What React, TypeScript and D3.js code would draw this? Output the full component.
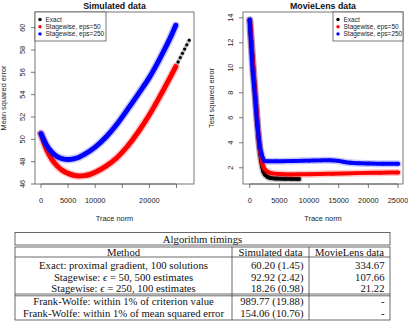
import React from "react";
import * as d3 from "d3";

// Simulated data: trace norm vs mean squared error
const simExactTrace = [0, 1000, 2000, 3000, 4000, 5000, 6000, 7000, 8000, 9000, 10000, 12000, 14000, 16000, 18000, 20000, 22000, 24000, 24850, 25300, 25700, 26100, 26500, 26900, 27350];
const simExactErr = [50.5, 49.1, 48.2, 47.6, 47.2, 46.95, 46.78, 46.72, 46.75, 46.85, 47.05, 47.6, 48.35, 49.4, 50.7, 52.2, 53.9, 55.7, 56.5, 56.93, 57.32, 57.7, 58.08, 58.46, 58.88];
const simEps50Trace = [0, 1000, 2000, 3000, 4000, 5000, 6000, 7000, 8000, 9000, 10000, 12000, 14000, 16000, 18000, 20000, 22000, 24000, 24850];
const simEps50Err = [50.5, 49.1, 48.2, 47.6, 47.2, 46.95, 46.78, 46.72, 46.75, 46.85, 47.05, 47.6, 48.35, 49.4, 50.7, 52.2, 53.9, 55.7, 56.5];
const simEps250Trace = [0, 1000, 2000, 3000, 4000, 5000, 6000, 7000, 8000, 10000, 12000, 14000, 16000, 18000, 20000, 22000, 24000, 24850];
const simEps250Err = [50.5, 49.5, 48.85, 48.45, 48.25, 48.2, 48.25, 48.4, 48.65, 49.3, 50.2, 51.35, 52.7, 54.1, 55.55, 57.3, 59.25, 60.2];

// MovieLens data: trace norm vs test squared error
const mlExactTrace = [0, 150, 300, 450, 600, 750, 900, 1050, 1200, 1350, 1500, 1650, 1800, 1950, 2100, 2300, 2600, 3000, 3600, 4500, 6000, 7000, 8300];
const mlExactErr = [13.8, 12.7, 12.0, 11.0, 10.0, 9.0, 8.0, 7.2, 6.2, 5.3, 4.3, 3.6, 3.0, 2.5, 2.1, 1.7, 1.45, 1.28, 1.18, 1.14, 1.12, 1.11, 1.1];
const mlEps50Trace = [0, 150, 300, 450, 600, 750, 900, 1050, 1200, 1350, 1500, 1650, 1800, 1950, 2100, 2300, 2600, 3000, 3800, 5000, 7000, 10000, 14000, 18000, 22000, 25000];
const mlEps50Err = [13.8, 13.3, 12.1, 11.0, 10.1, 9.1, 8.1, 7.2, 6.3, 5.4, 4.5, 3.8, 3.2, 2.8, 2.4, 2.1, 1.85, 1.68, 1.55, 1.5, 1.47, 1.48, 1.52, 1.57, 1.6, 1.62];
const mlEps250Trace = [0, 250, 500, 750, 1000, 1250, 1500, 1750, 2000, 2250, 2500, 3000, 4500, 6000, 8000, 10000, 12000, 13500, 15000, 16000, 17000, 18500, 20000, 22500, 25000];
const mlEps250Err = [13.85, 11.7, 9.7, 8.5, 7.0, 5.5, 4.5, 3.6, 3.1, 2.75, 2.55, 2.52, 2.52, 2.53, 2.55, 2.57, 2.59, 2.6, 2.55, 2.46, 2.4, 2.36, 2.34, 2.32, 2.32];

const simXTicks = [0, 5000, 10000, 15000, 20000, 25000];
const simXLabels = ["0", "5000", "10000", "", "20000", ""];
const simYTicks = [46, 48, 50, 52, 54, 56, 58, 60];
const mlXTicks = [0, 5000, 10000, 15000, 20000, 25000];
const mlXLabels = ["0", "5000", "10000", "15000", "20000", "25000"];
const mlYTicks = [2, 4, 6, 8, 10, 12, 14];

const legendNames = ["Exact", "Stagewise, eps=50", "Stagewise, eps=250"];
const legendColors = ["#000000", "#ff0000", "#0000ff"];

// timing table
const tableTitle = "Algorithm timings";
const tableHeader = ["Method", "Simulated data", "MovieLens data"];
const tableMethods = [
  ["Exact: proximal gradient, 100 solutions"],
  ["Stagewise: ", "ϵ", " = 50, 500 estimates"],
  ["Stagewise: ", "ϵ", " = 250, 100 estimates"],
  ["Frank-Wolfe: within 1% of criterion value"],
  ["Frank-Wolfe: within 1% of mean squared error"],
];
const tableSimulated = ["60.20 (1.45)", "92.92 (2.42)", "18.26 (0.98)", "989.77 (19.88)", "154.06 (10.76)"];
const tableMovieLens = ["334.67", "107.66", "21.22", "-", "-"];

type Series = { xs: number[]; ys: number[]; color: string; kind: "band" | "dots" | "thick" };

const sans = "Liberation Sans, Arial, sans-serif";
const serif = "Liberation Serif, Times New Roman, serif";

function Panel(props: {
  box: [number, number, number, number];
  xDomain: [number, number];
  yDomain: [number, number];
  title: string;
  yLabel: string;
  xTicks: number[];
  xLabels: string[];
  yTicks: number[];
  series: Series[];
  legendX: number;
  legendW: number;
}) {
  const [x0, y0, x1, y1] = props.box;
  const x = d3.scaleLinear().domain(props.xDomain).range([x0, x1]);
  const y = d3.scaleLinear().domain(props.yDomain).range([y1, y0]);
  const line = (s: Series) =>
    d3
      .line<number>()
      .x((_, i) => x(s.xs[i]))
      .y((d) => y(d))
      .curve(d3.curveMonotoneX)(s.ys) || "";
  const clipId = "clip" + Math.round(x0);
  const cx = (x0 + x1) / 2;
  const cy = (y0 + y1) / 2;
  return (
    <g>
      <defs>
        <clipPath id={clipId}>
          <rect x={x0} y={y0} width={x1 - x0} height={y1 - y0} />
        </clipPath>
      </defs>
      <g clipPath={`url(#${clipId})`}>
        {props.series.map((s, k) => {
          const d = line(s);
          if (s.kind === "dots") {
            return (
              <g key={k}>
                <path d={d} fill="none" stroke="#888" strokeWidth={4} strokeOpacity={0.45} />
                {s.xs.map((v, i) => (
                  <circle key={i} cx={x(v)} cy={y(s.ys[i])} r={1.6} fill={s.color} />
                ))}
              </g>
            );
          }
          const w = s.kind === "band" ? 5 : 4;
          return (
            <g key={k}>
              <path d={d} fill="none" stroke={s.color} strokeWidth={w + 3} strokeOpacity={0.22} strokeLinecap="round" />
              <path d={d} fill="none" stroke={s.color} strokeWidth={w} strokeLinecap="round" />
              {s.xs.map((v, i) => (
                <circle key={i} cx={x(v)} cy={y(s.ys[i])} r={2} fill={s.color} fillOpacity={0.8} />
              ))}
            </g>
          );
        })}
      </g>
      <rect x={x0} y={y0} width={x1 - x0} height={y1 - y0} fill="none" stroke="#555" strokeWidth={0.8} />
      {/* x axis */}
      <line x1={x(props.xTicks[0])} x2={x(props.xTicks[props.xTicks.length - 1])} y1={y1} y2={y1} stroke="#555" strokeWidth={0.8} />
      {props.xTicks.map((t, i) => (
        <g key={t}>
          <line x1={x(t)} x2={x(t)} y1={y1} y2={y1 + 4} stroke="#555" strokeWidth={0.8} />
          <text x={x(t)} y={y1 + 18.5} fontSize={7.4} textAnchor="middle" fontFamily={sans} fill="#222">
            {props.xLabels[i]}
          </text>
        </g>
      ))}
      {/* y axis */}
      {props.yTicks.map((t) => (
        <g key={t}>
          <line x1={x0 - 4} x2={x0} y1={y(t)} y2={y(t)} stroke="#555" strokeWidth={0.8} />
          <text
            transform={`translate(${x0 - 10.5},${y(t)}) rotate(-90)`}
            fontSize={7.4}
            textAnchor="middle"
            fontFamily={sans}
            fill="#222"
          >
            {t}
          </text>
        </g>
      ))}
      <text x={cx} y={220.5} fontSize={7.4} textAnchor="middle" fontFamily={sans} fill="#222">
        Trace norm
      </text>
      <text
        transform={`translate(${x0 - 29},${cy}) rotate(-90)`}
        fontSize={7.4}
        textAnchor="middle"
        fontFamily={sans}
        fill="#222"
      >
        {props.yLabel}
      </text>
      <text x={cx} y={9} fontSize={8.8} fontWeight="bold" textAnchor="middle" fontFamily={sans} fill="#111">
        {props.title}
      </text>
      {/* legend */}
      <rect x={props.legendX} y={y0} width={props.legendW} height={29} fill="white" stroke="#555" strokeWidth={0.8} />
      {legendNames.map((n, i) => (
        <g key={n}>
          <circle cx={props.legendX + 5} cy={y0 + 7.5 + i * 7.2} r={1.7} fill={legendColors[i]} />
          <text x={props.legendX + 10.5} y={y0 + 9.8 + i * 7.2} fontSize={6.5} fontFamily={sans} fill="#222">
            {n}
          </text>
        </g>
      ))}
    </g>
  );
}

function Table() {
  const left = 15;
  const right = 390;
  const col1 = 232;
  const col2 = 309;
  const top = 232.5;
  const rowY = [265.7, 277, 288.5, 301.2, 313];
  const line = "#444";
  return (
    <g fontFamily={serif} fontSize={10.7} fill="#111">
      <rect x={left} y={top} width={right - left} height={12.5} fill="none" stroke={line} strokeWidth={0.8} />
      <text x={(left + right) / 2} y={242.6} textAnchor="middle">
        {tableTitle}
      </text>
      <rect x={left} y={247} width={right - left} height={73} fill="none" stroke={line} strokeWidth={0.8} />
      <line x1={left} x2={right} y1={257} y2={257} stroke={line} strokeWidth={0.8} />
      <line x1={left} x2={right} y1={294} y2={294} stroke={line} strokeWidth={0.8} />
      <line x1={left} x2={right} y1={295.8} y2={295.8} stroke={line} strokeWidth={0.8} />
      <line x1={col1} x2={col1} y1={247} y2={320} stroke={line} strokeWidth={0.8} />
      <line x1={col2} x2={col2} y1={247} y2={320} stroke={line} strokeWidth={0.8} />
      <text x={(left + col1) / 2} y={255.8} textAnchor="middle">
        {tableHeader[0]}
      </text>
      <text x={(col1 + col2) / 2} y={255.8} textAnchor="middle">
        {tableHeader[1]}
      </text>
      <text x={(col2 + right) / 2} y={255.8} textAnchor="middle">
        {tableHeader[2]}
      </text>
      {tableMethods.map((parts, i) => (
        <g key={i}>
          <text x={(left + col1) / 2} y={rowY[i] + 3.5} textAnchor="middle">
            {parts.map((p, j) => (
              <tspan key={j} fontStyle={p === "ϵ" ? "italic" : "normal"}>
                {p}
              </tspan>
            ))}
          </text>
          <text x={col2 - 5.5} y={rowY[i] + 3.5} textAnchor="end">
            {tableSimulated[i]}
          </text>
          <text x={right - 5.5} y={rowY[i] + 3.5} textAnchor="end">
            {tableMovieLens[i]}
          </text>
        </g>
      ))}
    </g>
  );
}

export default function App() {
  const simSeries: Series[] = [
    { xs: simExactTrace, ys: simExactErr, color: "#000000", kind: "dots" },
    { xs: simEps50Trace, ys: simEps50Err, color: "#ff0000", kind: "band" },
    { xs: simEps250Trace, ys: simEps250Err, color: "#0000ff", kind: "band" },
  ];
  const mlSeries: Series[] = [
    { xs: mlExactTrace, ys: mlExactErr, color: "#000000", kind: "thick" },
    { xs: mlEps50Trace, ys: mlEps50Err, color: "#ff0000", kind: "thick" },
    { xs: mlEps250Trace, ys: mlEps250Err, color: "#0000ff", kind: "thick" },
  ];
  return (
    <svg width={408} height={323} style={{ position: "absolute", left: 0, top: 0, background: "white" }}>
      <Panel
        box={[35, 12, 194, 184]}
        xDomain={[-1110, 28230]}
        yDomain={[46, 61.4]}
        title="Simulated data"
        yLabel="Mean squared error"
        xTicks={simXTicks}
        xLabels={simXLabels}
        yTicks={simYTicks}
        series={simSeries}
        legendX={35}
        legendW={71}
      />
      <Panel
        box={[243, 12, 403, 184]}
        xDomain={[-1130, 25840]}
        yDomain={[0.7, 14.46]}
        title="MovieLens data"
        yLabel="Test squared error"
        xTicks={mlXTicks}
        xLabels={mlXLabels}
        yTicks={mlYTicks}
        series={mlSeries}
        legendX={333}
        legendW={70}
      />
      <Table />
    </svg>
  );
}
